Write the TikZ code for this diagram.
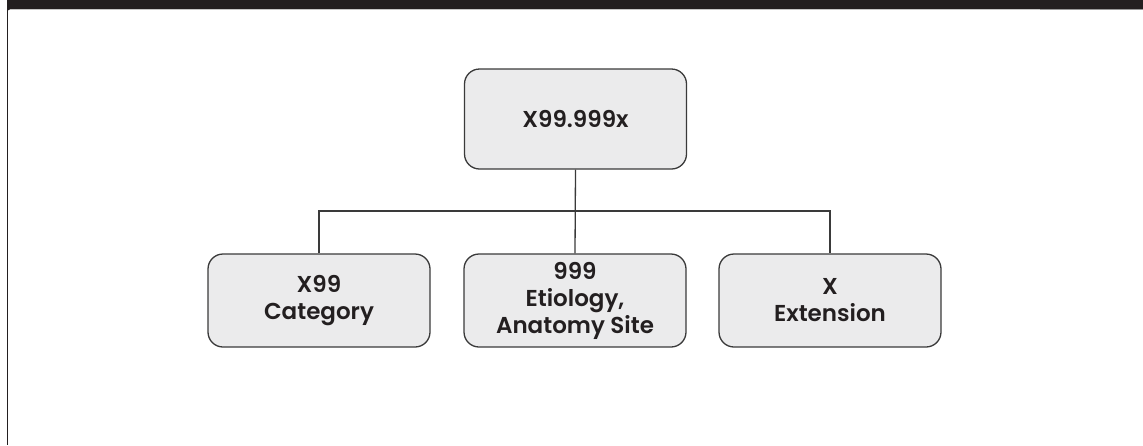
\documentclass[tikz,border=0pt]{standalone}
\usepackage{fontspec}
\setmainfont{Poppins}[BoldFont={Poppins SemiBold}]
\definecolor{barc}{HTML}{231F20}
\definecolor{boxfill}{HTML}{EBEBEC}
\definecolor{linec}{HTML}{3A3A3A}
\begin{document}
\begin{tikzpicture}[x=1pt,y=-1pt,
  codebox/.style={draw=linec, line width=1.3pt, fill=boxfill, rounded corners=15pt,
    minimum width=222pt, minimum height=98pt, inner sep=0pt, align=center,
    font=\fontsize{23}{27}\selectfont\bfseries, text=barc},
  conn/.style={draw=linec, line width=1.3pt}]
\useasboundingbox (0,0) rectangle (1143,445);
% frame
\fill[barc] (7,0) -- (1143,0) -- (1143,9) -- (11,9) arc[start angle=270, end angle=180, radius=4] -- cycle;
\draw[line width=1.5pt, barc] (7.5,0) -- (7.5,445);
\draw[line width=1pt, gray!45] (10,9.8) -- (1040,9.8);
\draw[line width=1pt, gray!80] (1040,9.8) -- (1143,9.8);
% nodes
\node[codebox, minimum height=100pt] (top) at (575.5,119) {X99.999x};
\node[codebox, minimum height=93pt] (cat) at (319,300.5) {X99\\Category};
\node[codebox, minimum height=93pt] (eti) at (575,300.5) {999\\Etiology,\\Anatomy Site};
\node[codebox, minimum height=93pt] (ext) at (830,300.5) {X\\Extension};
% connectors
\coordinate (mid) at (575.5,211);
\draw[conn] (top.south) -- (eti.north);
\draw[conn] (cat.north) |- (mid) -| (ext.north);
\end{tikzpicture}
\end{document}
